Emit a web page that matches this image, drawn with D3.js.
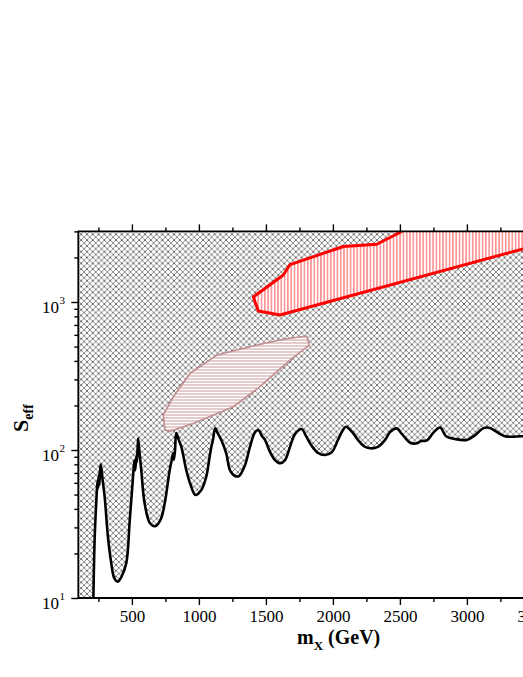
<!DOCTYPE html>
<html><head><meta charset="utf-8">
<script src="https://cdn.jsdelivr.net/npm/d3@7"></script>
<style>
body{margin:0;background:#fff;}
svg{display:block;font-family:"Liberation Serif","Times New Roman",serif;overflow:hidden;}
</style>
</head><body>
<svg id="c" width="523" height="677"></svg>
<script>
// ---- data ----
const boundaryMass = [212,222,236,243,248,253,257,262,268,282,297,321,346,370,395,420,458,484,503,512,519,525,534,538,546,555,570,595,635,675,715,745,782,800,807,813,822,831,848,869,906,943,973,1018,1055,1080,1093,1105,1122,1140,1167,1204,1232,1269,1299,1344,1381,1419,1443,1471,1493,1531,1568,1605,1643,1680,1717,1767,1800,1844,1889,1941,1993,2038,2075,2097,2150,2187,2232,2276,2336,2389,2426,2476,2516,2576,2626,2658,2702,2747,2800,2844,2912,2999,3061,3120,3172,3225,3284,3344,3418,3500];
const boundarySeff = [9,25,48,62,55,68,58,72,80,62,48,26,17.2,13.5,12.9,13.8,17.2,33.6,56.5,73,85,73,92,83,120,100,73,43.6,32,30.6,34,43.6,73,88,95,86,100,130,118,105,73,56.5,49.7,53.7,66,90,105,117,140,130,117,95,73,66.7,66.7,79,105,132,136.5,124,117,97,85.5,81.3,85.5,105,128,138.6,124,106,95.5,92.5,97,117,136.5,143.6,130,117,106,102.7,105,117,132,140,128,112,111,115,116,130,142,124,118.6,117,126,140,141,132,124,123,124,126];

const redMass = [2515,2327,2078,1680,1630,1406,1443,1605,3421,3500];
const redSeff = [3000,2455,2372,1791,1521,1082,869,817,2286,2390];

const pinkMass = [734,809,934,1133,1381,1630,1804,1824,1680,1456,1257,958,784,747];
const pinkSeff = [172,229,330,438,499,560,589,511,405,268,196,151,134,136.5];

const xMajorTicks = [500,1000,1500,2000,2500,3000,3500];
const xMinorTicks = [250,750,1250,1750,2250,2750,3250];
const yMajorTicks = [10,100,1000];
const yExponents = ["1","2","3"];
const yMinorTicks = [20,30,40,50,60,70,80,90,200,300,400,500,600,700,800,900,2000,3000];

// ---- layout ----
const pL = 78.3, pB = 598, pT = 231.4;
const x = d3.scaleLinear().domain([100,3500]).range([pL, pL + 3400/500*67]);
const y = d3.scaleLog().domain([10,3000]).range([pB, pT]);
const pR = x(3500);

const svg = d3.select("#c");
const defs = svg.append("defs");

// crosshatch pattern
const hs = 5.8;
const ch = defs.append("pattern").attr("id","xh").attr("patternUnits","userSpaceOnUse")
  .attr("width",hs).attr("height",hs).attr("x",pL).attr("y",pT);
ch.append("rect").attr("width",hs).attr("height",hs).attr("fill","#fff");
ch.append("path").attr("d",`M0,0L${hs},${hs}M${hs},0L0,${hs}M-1,1L1,-1M${hs-1},${hs+1}L${hs+1},${hs-1}`)
  .attr("stroke","#1a1a1a").attr("stroke-width",0.5).attr("fill","none");
ch.append("circle").attr("cx",hs/2).attr("cy",hs/2).attr("r",0.55).attr("fill","#000");

// red vertical hatching
const rp = defs.append("pattern").attr("id","rv").attr("patternUnits","userSpaceOnUse")
  .attr("width",3.3).attr("height",10);
rp.append("rect").attr("width",3.3).attr("height",10).attr("fill","#fff");
rp.append("line").attr("x1",0.8).attr("x2",0.8).attr("y1",0).attr("y2",10)
  .attr("stroke","#ff5050").attr("stroke-width",1);

// pink horizontal hatching
const pp = defs.append("pattern").attr("id","ph").attr("patternUnits","userSpaceOnUse")
  .attr("width",10).attr("height",3);
pp.append("rect").attr("width",10).attr("height",3).attr("fill","#fff");
pp.append("line").attr("x1",0).attr("x2",10).attr("y1",1).attr("y2",1)
  .attr("stroke","#c99a9a").attr("stroke-width",1);

defs.append("clipPath").attr("id","plotclip").append("rect")
  .attr("x",pL).attr("y",pT).attr("width",pR-pL).attr("height",pB-pT);

const plot = svg.append("g").attr("clip-path","url(#plotclip)");

const bpts = boundaryMass.map((m,i)=>[x(m), y(boundarySeff[i])]);
const smooth = d3.line().curve(d3.curveCatmullRom.alpha(0.5));
const curveD = smooth(bpts);

// excluded (hatched) region above the curve
const areaD = curveD + `L${x(3500)},${y(3000)-5}L${x(100)-5},${y(3000)-5}L${x(100)-5},${y(9)}Z`;
plot.append("path").attr("d",areaD).attr("fill","url(#xh)");

// red region
const rpts = redMass.map((m,i)=>[x(m), y(redSeff[i])]);
const rpoly = rpts.concat([[x(3500)+5, y(3000)-5],[x(2515), y(3000)-5]]);
plot.append("path").attr("d", d3.line()(rpoly)+"Z").attr("fill","url(#rv)");
plot.append("path").attr("d", d3.line()(rpts)).attr("fill","none")
  .attr("stroke","#ff0000").attr("stroke-width",3).attr("stroke-linejoin","round");

// pink region
const ppts = pinkMass.map((m,i)=>[x(m), y(pinkSeff[i])]);
plot.append("path").attr("d", d3.line().curve(d3.curveLinearClosed)(ppts))
  .attr("fill","url(#ph)").attr("stroke","#c08e8e").attr("stroke-width",1.6).attr("stroke-linejoin","round");

// boundary curve
plot.append("path").attr("d",curveD).attr("fill","none").attr("stroke","#000")
  .attr("stroke-width",2.6).attr("stroke-linejoin","round");

// ---- axes ----
const axStyle = g => { g.selectAll(".domain").remove(); g.selectAll("line").attr("stroke","#000").attr("stroke-width",1.4); };

svg.append("g").attr("transform",`translate(0,${pB})`)
  .call(d3.axisBottom(x).tickValues(xMajorTicks).tickSize(7).tickPadding(5).tickFormat(d3.format("d")))
  .call(axStyle)
  .call(g=>g.selectAll("text").attr("font-size",17).attr("font-family","'Liberation Serif',serif").attr("fill","#000"));
svg.append("g").attr("transform",`translate(0,${pB})`)
  .call(d3.axisBottom(x).tickValues(xMinorTicks).tickSize(4).tickFormat(""))
  .call(axStyle);
svg.append("g").attr("transform",`translate(0,${pT})`)
  .call(d3.axisTop(x).tickValues(xMajorTicks).tickSize(7).tickFormat(""))
  .call(axStyle);
svg.append("g").attr("transform",`translate(0,${pT})`)
  .call(d3.axisTop(x).tickValues(xMinorTicks).tickSize(4).tickFormat(""))
  .call(axStyle);
svg.append("g").attr("transform",`translate(${pL},0)`)
  .call(d3.axisLeft(y).tickValues(yMajorTicks).tickSize(7).tickFormat(""))
  .call(axStyle);
svg.append("g").attr("transform",`translate(${pL},0)`)
  .call(d3.axisLeft(y).tickValues(yMinorTicks).tickSize(4).tickFormat(""))
  .call(axStyle);

// frame
svg.append("path").attr("d",`M${pR},${pT}L${pL},${pT}L${pL},${pB}L${pR},${pB}`)
  .attr("fill","none").attr("stroke","#000").attr("stroke-width",1.8);

// y tick labels 10^n
yMajorTicks.forEach((v,i)=>{
  svg.append("text").attr("x",59).attr("y",y(v)+11).attr("text-anchor","end")
    .attr("font-size",17).text("10");
  svg.append("text").attr("x",59.5).attr("y",y(v)+2).attr("font-size",11).text(yExponents[i]);
});

// axis titles
const xl = svg.append("text").attr("x",297).attr("y",644).attr("font-size",20).attr("font-weight","bold");
xl.append("tspan").text("m");
xl.append("tspan").attr("font-size",13).attr("dy",6).text("X");
xl.append("tspan").attr("dy",-6).text(" (GeV)");

const yl = svg.append("text").attr("transform","translate(28,432) rotate(-90)")
  .attr("font-size",22).attr("font-weight","bold");
yl.append("tspan").text("S");
yl.append("tspan").attr("font-size",14).attr("dy",5).text("eff");
</script>
</body></html>
